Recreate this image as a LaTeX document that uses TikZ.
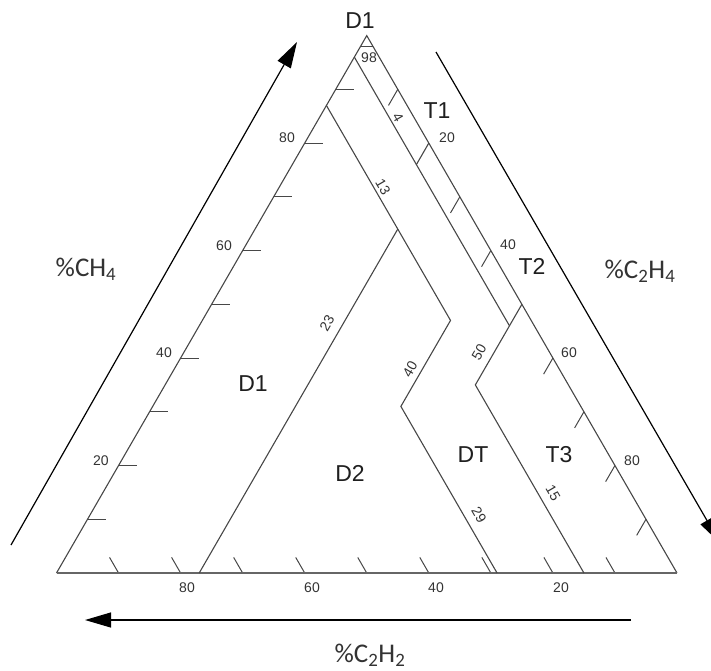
\documentclass[tikz,border=0pt]{standalone}
\usepackage{fontspec}
\setmainfont{Liberation Sans}
\newfontfamily\calibfont{Carlito}
\usetikzlibrary{arrows.meta}
\begin{document}
\begin{tikzpicture}[x=1pt,y=-1pt,
  edge/.style={draw=black!72, line width=1.1pt},
  tickmark/.style={draw=black!72, line width=1pt},
  axisarrow/.style={draw=black, line width=1.2pt, -{Triangle[length=26pt,width=15pt]}},
  num/.style={font=\fontsize{14}{14}\selectfont, text=black!80, inner sep=0pt},
  zone/.style={font=\fontsize{23}{23}\selectfont, text=black!88, inner sep=0pt},
  axislabel/.style={font=\calibfont\fontsize{27}{27}\selectfont, text=black!80, inner sep=0pt},
]
\useasboundingbox (0,0) rectangle (711,670);
\clip (0,0) rectangle (711,670);
% corners: A = 100% CH4, L = 100% C2H2, R = 100% C2H4
\coordinate (A) at (366.75,35.6);
\coordinate (L) at (56.5,573);
\coordinate (R) at (677,573);
% zone boundary points
\coordinate (p98L) at (barycentric cs:A=.98,L=.02,R=0);
\coordinate (p98R) at (barycentric cs:A=.98,L=0,R=.02);
\coordinate (p4t)  at (barycentric cs:A=.96,L=.04,R=0);
\coordinate (p4b)  at (barycentric cs:A=.46,L=.04,R=.50);
\coordinate (p20R) at (barycentric cs:A=.80,L=0,R=.20);
\coordinate (p20i) at (barycentric cs:A=.76,L=.04,R=.20);
\coordinate (p50R) at (barycentric cs:A=.50,L=0,R=.50);
\coordinate (p50b) at (barycentric cs:A=.35,L=.15,R=.50);
\coordinate (p15b) at (barycentric cs:A=0,L=.15,R=.85);
\coordinate (p13t) at (barycentric cs:A=.87,L=.13,R=0);
\coordinate (p13b) at (barycentric cs:A=.47,L=.13,R=.40);
\coordinate (p29t) at (barycentric cs:A=.31,L=.29,R=.40);
\coordinate (p29b) at (barycentric cs:A=0,L=.29,R=.71);
\coordinate (p23t) at (barycentric cs:A=.64,L=.13,R=.23);
\coordinate (p23b) at (barycentric cs:A=0,L=.77,R=.23);
% ticks
\foreach \k in {1,...,9} {
  \pgfmathsetmacro\fa{\k/10}
  \pgfmathsetmacro\fb{1-\k/10}
  \coordinate (lt\k) at (barycentric cs:A=\fa,L=\fb,R=0);
  \draw[tickmark] (lt\k) -- ++(18,0);
  \coordinate (bt\k) at (barycentric cs:A=0,L=\fa,R=\fb);
  \draw[tickmark] (bt\k) -- ++(-9,-15.6);
}
\foreach \k in {1,3,4,6,7,8,9} {
  \pgfmathsetmacro\fa{\k/10}
  \pgfmathsetmacro\fb{1-\k/10}
  \coordinate (rt\k) at (barycentric cs:A=\fb,L=0,R=\fa);
  \draw[tickmark] (rt\k) -- ++(-9.3,16.1);
}
% triangle
\draw[edge] (R) -- (A) -- (L);
\draw[edge, line width=1.6pt, draw=black!60] (L) -- (R);
% zone boundaries
\draw[edge] (p98L) -- (p98R);
\draw[edge] (p4t) -- (p4b);
\draw[edge] (p20R) -- (p20i);
\draw[edge] (p50R) -- (p50b) -- (p15b);
\draw[edge] (p13t) -- (p13b) -- (p29t) -- (p29b);
\draw[edge] (p23t) -- (p23b);
% boundary labels
\node[num] (n98) at (369,58) {98};
\node[num, rotate=-60] (n4) at (398,117) {4};
\node[num, rotate=-60] (n13) at (383,187) {13};
\node[num, rotate=60] (n23) at (327,323) {23};
\node[num, rotate=60] (n40i) at (410,369) {40};
\node[num, rotate=60] (n50) at (479,352) {50};
\node[num, rotate=-60] (n29) at (479,515) {29};
\node[num, rotate=-60] (n15) at (553,493) {15};
% scale labels
\node[num] (l80) at (287,138) {80};
\node[num] (l60) at (224,246) {60};
\node[num] (l40) at (164,353) {40};
\node[num] (l20) at (101,461) {20};
\node[num] (r20) at (447,138) {20};
\node[num] (r40) at (508,245) {40};
\node[num] (r60) at (569,353) {60};
\node[num] (r80) at (632,461) {80};
\node[num] (b80) at (187,588) {80};
\node[num] (b60) at (312,588) {60};
\node[num] (b40) at (436,588) {40};
\node[num] (b20) at (561,588) {20};
% zone labels
\node[zone] (zD1t) at (360,21) {D1};
\node[zone] (zT1) at (437,111) {T1};
\node[zone] (zT2) at (532,266) {T2};
\node[zone] (zD1) at (253,384) {D1};
\node[zone] (zD2) at (350,473) {D2};
\node[zone] (zDT) at (473,455) {DT};
\node[zone] (zT3) at (559,455) {T3};
% axis labels
\node[axislabel] (aCH4) at (86,269) {\%CH\textsubscript{4}};
\node[axislabel] (aC2H4) at (640,271) {\%C\textsubscript{2}H\textsubscript{4}};
\node[axislabel] (aC2H2) at (370,655) {\%C\textsubscript{2}H\textsubscript{2}};
% axis arrows
\coordinate (la1) at (11,545);
\coordinate (la2) at (297,42);
\coordinate (ra1) at (436,52);
\coordinate (ra2) at (720,543);
\coordinate (ba1) at (631,620);
\coordinate (ba2) at (85,620);
\draw[axisarrow] (la1) -- (la2);
\draw[axisarrow] (ra1) -- (ra2);
\draw[axisarrow] (ba1) -- (ba2);
\end{tikzpicture}
\end{document}
